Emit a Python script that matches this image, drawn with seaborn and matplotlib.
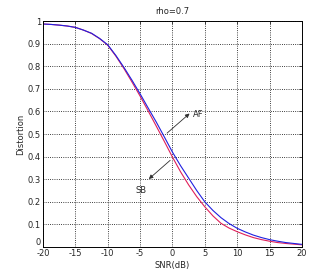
import numpy as np
import pandas as pd
import matplotlib
matplotlib.use('Agg')
import matplotlib.pyplot as plt
import seaborn as sns

snr_db = [-20, -18.75, -17.5, -16.25, -15, -13.75, -12.5, -11.25, -10, -8.75, -7.5,
          -6.25, -5, -3.75, -2.5, -1.25, 0, 1.25, 2.5, 3.75, 5, 6.25, 7.5, 8.75,
          10, 11.25, 12.5, 13.75, 15, 16.25, 17.5, 18.75, 20]
dist_sb = [0.987, 0.985, 0.982, 0.978, 0.972, 0.96, 0.945, 0.922, 0.893, 0.845, 0.79,
           0.73, 0.668, 0.602, 0.535, 0.467, 0.398, 0.333, 0.275, 0.223, 0.178, 0.138,
           0.105, 0.084, 0.068, 0.054, 0.042, 0.033, 0.026, 0.02, 0.016, 0.013, 0.01]
dist_af = [0.987, 0.985, 0.982, 0.978, 0.972, 0.96, 0.946, 0.923, 0.895, 0.848, 0.795,
           0.738, 0.678, 0.615, 0.553, 0.487, 0.42, 0.36, 0.305, 0.25, 0.20, 0.162,
           0.13, 0.104, 0.083, 0.067, 0.053, 0.042, 0.033, 0.026, 0.02, 0.016, 0.012]
xticks = [-20, -15, -10, -5, 0, 5, 10, 15, 20]
yticks = [0, 0.1, 0.2, 0.3, 0.4, 0.5, 0.6, 0.7, 0.8, 0.9, 1]

df = pd.DataFrame({'snr': snr_db * 2,
                   'dist': dist_sb + dist_af,
                   'scheme': ['SB'] * len(snr_db) + ['AF'] * len(snr_db)})

sns.set_style('white')
plt.rcParams['font.family'] = ['DejaVu Sans']
fig = plt.figure(figsize=(3.32, 2.77), dpi=100)
ax = fig.add_axes([0.1295, 0.108, 0.78, 0.816])

sns.lineplot(data=df, x='snr', y='dist', hue='scheme',
             palette={'SB': '#e0205a', 'AF': '#2020e0'},
             lw=0.8, legend=False, ax=ax)

ax.set_xlim(-20, 20)
ax.set_ylim(0, 1)
ax.set_xticks(xticks)
ax.set_yticks(yticks)
ax.set_xticklabels([str(t) for t in xticks])
ax.set_yticklabels(['0'] + ['%.1f' % t for t in yticks[1:-1]] + ['1'])
ax.tick_params(direction='in', length=2.5, width=0.6, labelsize=6, pad=1.5,
               top=True, right=True)
# lift the "0" so it does not run into "-20"
ax.get_yticklabels()[0].set_va('bottom')
ax.grid(True, color='black', linestyle=':', lw=0.6)
for s in ax.spines.values():
    s.set_color('black')
    s.set_linewidth(0.7)

ax.set_title('rho=0.7', fontsize=6, pad=5)
ax.set_xlabel('SNR(dB)', fontsize=6, labelpad=2)
ax.set_ylabel('Distortion', fontsize=6, labelpad=2)

arrow = dict(arrowstyle='-|>', color='#303030', lw=0.6, mutation_scale=6)
ax.annotate('', xy=(2.96, 0.599), xytext=(-1.16, 0.496), arrowprops=arrow)
ax.text(3.2, 0.585, 'AF', fontsize=6, va='center', ha='left')
ax.annotate('', xy=(-3.98, 0.293), xytext=(-0.03, 0.392), arrowprops=arrow)
ax.text(-4.86, 0.25, 'SB', fontsize=6, va='center', ha='center')

fig.savefig('out.png', dpi=100)
